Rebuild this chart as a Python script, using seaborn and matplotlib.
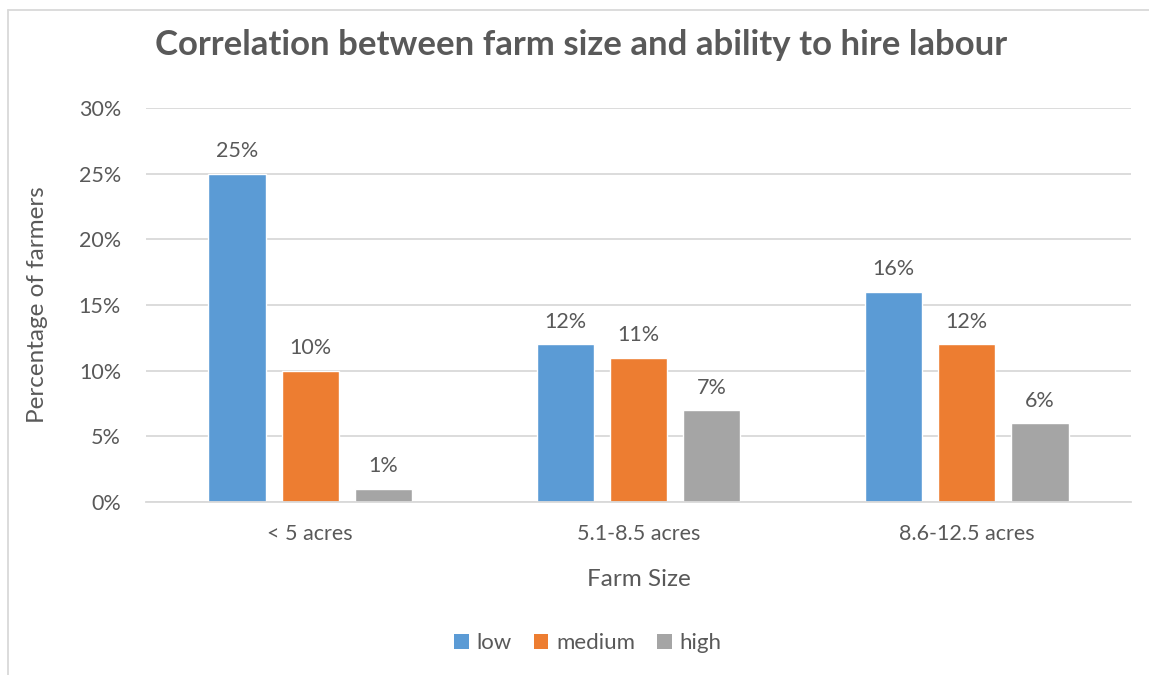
import matplotlib
matplotlib.use("Agg")
import matplotlib.pyplot as plt
from matplotlib.lines import Line2D
from matplotlib.patches import Patch
from matplotlib.ticker import FuncFormatter, MultipleLocator
import seaborn as sns
import pandas as pd

farm_sizes = ["< 5 acres", "5.1-8.5 acres", "8.6-12.5 acres"]
levels = ["low", "medium", "high"]
low = [25, 12, 16]
medium = [10, 11, 12]
high = [1, 7, 6]

colors = ["#5b9bd5", "#ed7d31", "#a5a5a5"]
text_color = "#595959"
grid_color = "#d9d9d9"

rows = []
for lvl, vals in zip(levels, [low, medium, high]):
    for size, v in zip(farm_sizes, vals):
        rows.append({"Farm Size": size, "level": lvl, "value": v})
df = pd.DataFrame(rows)

sns.set_style("white")
plt.rcParams["font.family"] = ["Lato", "DejaVu Sans"]

fig = plt.figure(figsize=(11.49, 6.75), dpi=100)
ax = fig.add_axes([146 / 1149, 1 - 502 / 675, (1131 - 146) / 1149, (502 - 108) / 675])

sns.barplot(data=df, x="Farm Size", y="value", hue="level", order=farm_sizes,
            hue_order=levels, palette=colors, width=0.668, gap=0.218,
            saturation=1, ax=ax, legend=False, errorbar=None)

for container in ax.containers:
    ax.bar_label(container, labels=[f"{int(b.get_height())}%" for b in container],
                 padding=9, fontsize=15.5, color=text_color)

ax.set_xlim(-0.5, 2.5)
ax.set_ylim(0, 30)
ax.yaxis.set_major_locator(MultipleLocator(5))
ax.yaxis.set_major_formatter(FuncFormatter(lambda v, _: f"{int(v)}%"))
ax.grid(axis="y", color=grid_color, linewidth=1.3)
ax.set_axisbelow(True)
for s in ["top", "right", "left"]:
    ax.spines[s].set_visible(False)
ax.spines["bottom"].set_color(grid_color)
ax.spines["bottom"].set_linewidth(1.3)
ax.tick_params(axis="y", length=0, labelsize=15.5, colors=text_color, pad=18)
ax.tick_params(axis="x", length=0, labelsize=15.5, colors=text_color, pad=16)

ax.set_xlabel("Farm Size", fontsize=17.5, color=text_color, labelpad=18)
ax.set_ylabel("Percentage of farmers", fontsize=17.5, color=text_color, labelpad=22)

fig.text(581 / 1149, 1 - 45 / 675, "Correlation between farm size and ability to hire labour",
         ha="center", va="center", fontsize=25, fontweight="bold", color=text_color)

handles = [Patch(facecolor=c, edgecolor="none") for c in colors]
fig.legend(handles, levels, loc="center", bbox_to_anchor=(588 / 1149, 1 - 643 / 675),
           ncol=3, frameon=False, fontsize=16, labelcolor=text_color,
           handlelength=0.65, handleheight=0.65, handletextpad=0.35, columnspacing=1.0)

# chart frame on the left and top edges
fig.add_artist(Line2D([8 / 1149, 8 / 1149], [0, 1 - 10 / 675], transform=fig.transFigure,
                      color=grid_color, linewidth=1.3))
fig.add_artist(Line2D([8 / 1149, 1], [1 - 10 / 675, 1 - 10 / 675], transform=fig.transFigure,
                      color=grid_color, linewidth=1.3))

fig.savefig("out.png", dpi=100, facecolor="white")
